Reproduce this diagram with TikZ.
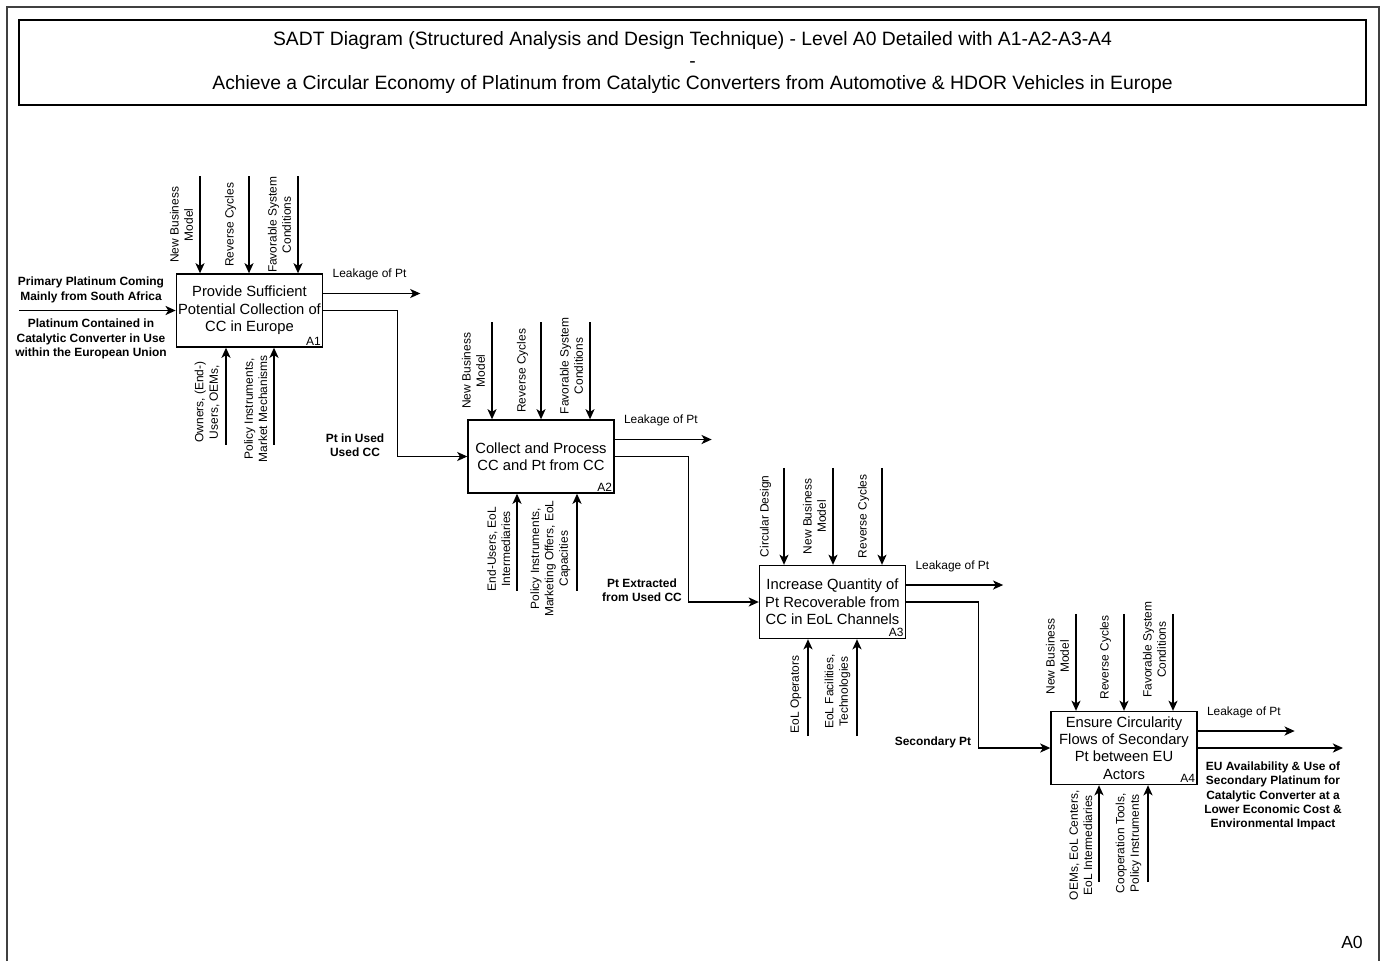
\documentclass[tikz,border=0pt]{standalone}
\usepackage{fontspec}
\setmainfont{Liberation Sans}
\usetikzlibrary{arrows.meta,positioning}

\begin{document}
\begin{tikzpicture}[
    x=0.02cm, y=-0.02cm,
    every node/.style={font=\fontsize{6.8}{8.2}\selectfont},
    titlebox/.style={draw, line width=0.8pt, minimum width=26.94cm, minimum height=1.7cm, align=center, font=\fontsize{11}{12.4}\selectfont},
    func/.style={draw, line width=0.8pt, minimum width=2.92cm, minimum height=1.46cm, inner sep=1pt, align=center, font=\fontsize{8.4}{9.9}\selectfont},
    funcid/.style={anchor=south east, inner sep=1.3pt, font=\fontsize{6.8}{8}\selectfont},
    flow/.style={-{Stealth[length=5.8pt, width=5.2pt, inset=1.6pt]}, line width=0.75pt},
    ctrllab/.style={anchor=center, align=center, inner sep=0pt, xshift=-0.37cm, rotate=90},
    mechlab/.style={anchor=south, align=center, inner sep=0pt, xshift=-0.12cm, rotate=90},
    leaklab/.style={anchor=west, inner sep=0pt},
    datalab/.style={align=center, inner sep=0pt, font=\bfseries\fontsize{6.8}{8.2}\selectfont}
  ]
  \useasboundingbox (0,0) rectangle (1383,961);
  \draw[black!75, line width=0.7pt] (7,961) -- (7,7) -- (1379,7) -- (1379,961);
  \node[titlebox] (title) at (692.5,62.5) {SADT Diagram (Structured Analysis and Design Technique) - Level A0 Detailed with A1-A2-A3-A4\\-\\Achieve a Circular Economy of Platinum from Catalytic Converters from Automotive \& HDOR Vehicles in Europe};
  \node[font=\fontsize{10}{12}\selectfont] (level) at (1352,942) {A0};

  % functions
  \node[func] (a1) at (249.5,310.5) {Provide Sufficient\\Potential Collection of\\CC in Europe};
  \node[func] (a2) at (541,456.5) {Collect and Process\\CC and Pt from CC};
  \node[func] (a3) at (832.5,602) {Increase Quantity of\\Pt Recoverable from\\CC in EoL Channels};
  \node[func] (a4) at (1124,748) {Ensure Circularity\\Flows of Secondary\\Pt between EU\\Actors};
  \foreach \bx/\id in {a1/A1, a2/A2, a3/A3, a4/A4}{
    \node[funcid] (\bx id) at (\bx.south east) {\id};
    \coordinate (\bx leak) at ([xshift=1.94cm, yshift=0.34cm]\bx.east);
    \draw[flow] ([yshift=0.34cm]\bx.east) -- (\bx leak);
    \node[leaklab] (\bx leaklab) at ([xshift=0.18cm, yshift=0.72cm]\bx.east) {Leakage of Pt};
  }

  % inputs and outputs
  \coordinate (in1) at (19,310.5);
  \draw[flow] (in1) -- (a1.west);
  \draw[flow] (a1.east) -- ++(74,0) |- (a2.west);
  \draw[flow] (a2.east) -- ++(74,0) |- (a3.west);
  \draw[flow] (a3.east) -- ++(72,0) |- (a4.west);
  \coordinate (out4) at (1343,748);
  \draw[flow] (a4.east) -- (out4);

  \node[datalab] (primary) at (91,290) {Primary Platinum Coming\\Mainly from South Africa};
  \node[datalab] (inuse) at (91,339) {Platinum Contained in\\Catalytic Converter in Use\\within the European Union};
  \node[datalab] (usedcc) at (355,445) {Pt in Used\\Used CC};
  \node[datalab] (extracted) at (642,590) {Pt Extracted\\from Used CC};
  \node[datalab] (secondary) at (933,742) {Secondary Pt};
  \node[datalab] (euuse) at (1273,796) {EU Availability \& Use of\\Secondary Platinum for\\Catalytic Converter at a\\Lower Economic Cost \&\\Environmental Impact};

  % A1 controls and mechanisms
  \foreach \dx/\p/\lab [count=\i] in {-49.5/0.5/{New Business\\Model}, -0.5/0.5/Reverse Cycles, 48.5/0.5/{Favorable System\\Conditions}}{
    \coordinate (a1c\i) at ([xshift=\dx*0.02cm, yshift=1.94cm]a1.north);
    \draw[flow] (a1c\i) -- (a1c\i |- a1.north) node[ctrllab, pos=\p] (a1cl\i) {\lab};
  }
  \foreach \dx/\p/\lab [count=\i] in {-23.5/0.44/{Owners, (End-)\\Users, OEMs,}, 24.5/0.37/{Policy Instruments,\\Market Mechanisms}}{
    \coordinate (a1m\i) at ([xshift=\dx*0.02cm, yshift=-1.94cm]a1.south);
    \draw[flow] (a1m\i) -- (a1m\i |- a1.south) node[mechlab, pos=\p] (a1ml\i) {\lab};
  }

  % A2 controls and mechanisms
  \foreach \dx/\p/\lab [count=\i] in {-49/0.5/{New Business\\Model}, 0/0.5/Reverse Cycles, 49/0.45/{Favorable System\\Conditions}}{
    \coordinate (a2c\i) at ([xshift=\dx*0.02cm, yshift=1.94cm]a2.north);
    \draw[flow] (a2c\i) -- (a2c\i |- a2.north) node[ctrllab, pos=\p] (a2cl\i) {\lab};
  }
  \foreach \dx/\p/\lab [count=\i] in {-24/0.43/{End-Users, EoL\\Intermediaries}, 36/0.33/{Policy Instruments,\\Marketing Offers, EoL\\Capacities}}{
    \coordinate (a2m\i) at ([xshift=\dx*0.02cm, yshift=-1.94cm]a2.south);
    \draw[flow] (a2m\i) -- (a2m\i |- a2.south) node[mechlab, pos=\p] (a2ml\i) {\lab};
  }

  % A3 controls and mechanisms
  \foreach \dx/\p/\lab [count=\i] in {-48.5/0.5/Circular Design, 0.5/0.5/{New Business\\Model}, 49.5/0.5/Reverse Cycles}{
    \coordinate (a3c\i) at ([xshift=\dx*0.02cm, yshift=1.94cm]a3.north);
    \draw[flow] (a3c\i) -- (a3c\i |- a3.north) node[ctrllab, pos=\p] (a3cl\i) {\lab};
  }
  \foreach \dx/\p/\lab [count=\i] in {-24.5/0.43/EoL Operators, 24.5/0.46/{EoL Facilities,\\Technologies}}{
    \coordinate (a3m\i) at ([xshift=\dx*0.02cm, yshift=-1.94cm]a3.south);
    \draw[flow] (a3m\i) -- (a3m\i |- a3.south) node[mechlab, pos=\p] (a3ml\i) {\lab};
  }

  % A4 controls and mechanisms
  \foreach \dx/\p/\lab [count=\i] in {-48/0.44/{New Business\\Model}, 0/0.45/Reverse Cycles, 49/0.37/{Favorable System\\Conditions}}{
    \coordinate (a4c\i) at ([xshift=\dx*0.02cm, yshift=1.94cm]a4.north);
    \draw[flow] (a4c\i) -- (a4c\i |- a4.north) node[ctrllab, pos=\p] (a4cl\i) {\lab};
  }
  \foreach \dx/\p/\lab [count=\i] in {-25/0.38/{OEMs, EoL Centers,\\EoL Intermediaries}, 24/0.40/{Cooperation Tools,\\Policy Instruments}}{
    \coordinate (a4m\i) at ([xshift=\dx*0.02cm, yshift=-1.94cm]a4.south);
    \draw[flow] (a4m\i) -- (a4m\i |- a4.south) node[mechlab, pos=\p] (a4ml\i) {\lab};
  }
\end{tikzpicture}
\end{document}
